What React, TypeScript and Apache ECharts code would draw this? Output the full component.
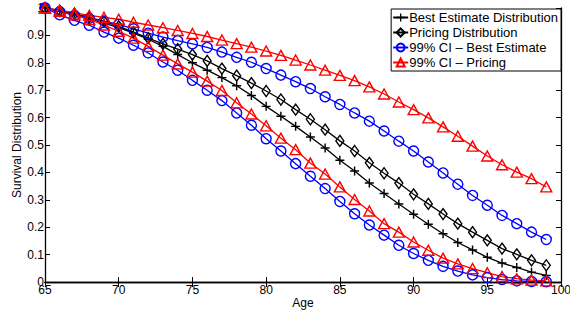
import React, { useEffect, useRef } from "react";
import * as echarts from "echarts";

const ages = [65, 66, 67, 68, 69, 70, 71, 72, 73, 74, 75, 76, 77, 78, 79, 80, 81, 82, 83, 84, 85, 86, 87, 88, 89, 90, 91, 92, 93, 94, 95, 96, 97, 98, 99];

const bestEstimate = [1.0, 0.988, 0.975, 0.96, 0.945, 0.928, 0.908, 0.886, 0.86, 0.83, 0.8, 0.773, 0.746, 0.716, 0.681, 0.641, 0.605, 0.568, 0.529, 0.489, 0.444, 0.405, 0.361, 0.323, 0.285, 0.247, 0.211, 0.176, 0.144, 0.117, 0.09, 0.069, 0.053, 0.036, 0.024];

const pricing = [1.0, 0.99, 0.979, 0.966, 0.951, 0.933, 0.912, 0.89, 0.869, 0.85, 0.83, 0.807, 0.779, 0.753, 0.726, 0.697, 0.666, 0.629, 0.594, 0.556, 0.515, 0.478, 0.435, 0.397, 0.361, 0.32, 0.285, 0.248, 0.213, 0.182, 0.152, 0.122, 0.101, 0.079, 0.061];

const ciBestUpper = [1.0, 0.987, 0.973, 0.962, 0.952, 0.94, 0.924, 0.908, 0.894, 0.881, 0.869, 0.856, 0.839, 0.82, 0.802, 0.779, 0.755, 0.731, 0.706, 0.676, 0.648, 0.617, 0.587, 0.551, 0.514, 0.478, 0.438, 0.398, 0.357, 0.316, 0.28, 0.243, 0.213, 0.182, 0.155];

const ciBestLower = [1.0, 0.975, 0.955, 0.937, 0.912, 0.89, 0.864, 0.836, 0.803, 0.773, 0.736, 0.7, 0.662, 0.617, 0.572, 0.523, 0.478, 0.432, 0.386, 0.341, 0.294, 0.249, 0.208, 0.171, 0.134, 0.104, 0.079, 0.057, 0.04, 0.026, 0.016, 0.009, 0.004, 0.002, 0.001];

const ciPricingUpper = [1.0, 0.992, 0.982, 0.973, 0.966, 0.959, 0.948, 0.938, 0.928, 0.918, 0.907, 0.896, 0.883, 0.87, 0.857, 0.843, 0.827, 0.81, 0.792, 0.773, 0.754, 0.735, 0.712, 0.686, 0.657, 0.629, 0.599, 0.566, 0.532, 0.496, 0.46, 0.428, 0.401, 0.377, 0.347];

const ciPricingLower = [1.0, 0.988, 0.975, 0.958, 0.938, 0.915, 0.89, 0.86, 0.828, 0.796, 0.766, 0.733, 0.699, 0.654, 0.613, 0.57, 0.525, 0.483, 0.434, 0.394, 0.347, 0.301, 0.259, 0.213, 0.182, 0.146, 0.116, 0.087, 0.066, 0.049, 0.034, 0.02, 0.012, 0.007, 0.004];

const legendNames = [
  "Best Estimate Distribution",
  "Pricing Distribution",
  "99% CI \u2013 Best Estimate",
  "99% CI \u2013 Pricing",
];

const FONT = "'Liberation Sans', Arial, Helvetica, sans-serif";
const PLUS = "path://M4.2,0H5.8V4.2H10V5.8H5.8V10H4.2V5.8H0V4.2H4.2Z";

function pairs(vals: number[]) {
  return ages.map((a, i) => [a, vals[i]]);
}

function mk(name: string, vals: number[], color: string, symbol: string, size: any, filled: boolean) {
  return {
    type: "line",
    name,
    data: pairs(vals),
    symbol,
    symbolSize: size,
    showSymbol: true,
    lineStyle: { color, width: 1.3 },
    itemStyle: filled
      ? { color, borderWidth: 0 }
      : { color: "rgba(255,255,255,0)", borderColor: color, borderWidth: 1.4 },
    emphasis: { disabled: true },
    z: 2,
  };
}

export default function App() {
  const ref = useRef<HTMLDivElement>(null);
  useEffect(() => {
    document.body.style.margin = "0";
    const chart = echarts.init(ref.current!, null, { renderer: "svg" });
    const axisCommon = {
      type: "value",
      axisLine: { show: true, lineStyle: { color: "#000", width: 1.3 } },
      axisTick: { show: true, inside: true, length: 5, lineStyle: { color: "#000", width: 1 } },
      splitLine: { show: false },
    };
    chart.setOption({
      animation: false,
      backgroundColor: "#fff",
      textStyle: { fontFamily: FONT },
      grid: { left: 45, right: 9, top: 8, bottom: 31, containLabel: false, outerBoundsMode: "none" },
      legend: {
        data: legendNames,
        orient: "vertical",
        right: 9,
        top: 9,
        itemWidth: 15,
        itemHeight: 10,
        itemGap: 2,
        padding: [2, 3, 2, 1],
        borderColor: "#000",
        borderWidth: 1,
        backgroundColor: "#fff",
        textStyle: { fontSize: 13, color: "#000", fontFamily: FONT, padding: [0, 0, 0, -4] },
        selectedMode: false,
      },
      xAxis: [
        {
          ...axisCommon,
          min: 65,
          max: 100,
          interval: 5,
          position: "bottom",
          name: "Age",
          nameLocation: "middle",
          nameGap: 15,
          nameMoveOverlap: false,
          nameTextStyle: { fontSize: 12, color: "#000", fontFamily: FONT },
          axisLabel: { fontSize: 12, color: "#000", margin: 2, fontFamily: FONT, showMaxLabel: true },
        },
        {
          ...axisCommon,
          min: 65,
          max: 100,
          interval: 5,
          position: "top",
          axisLabel: { show: false },
        },
      ],
      yAxis: [
        {
          ...axisCommon,
          min: 0,
          max: 1,
          interval: 0.1,
          position: "left",
          name: "Survival Distribution",
          nameLocation: "middle",
          nameGap: 22,
          nameMoveOverlap: false,
          nameTextStyle: { fontSize: 12, color: "#000", fontFamily: FONT },
          axisLabel: { fontSize: 12, color: "#000", margin: 1, fontFamily: FONT, showMaxLabel: true },
        },
        {
          ...axisCommon,
          min: 0,
          max: 1,
          interval: 0.1,
          position: "right",
          axisLabel: { show: false },
        },
      ],
      series: [
        mk(legendNames[0], bestEstimate, "#000", PLUS, 9, true),
        mk(legendNames[1], pricing, "#000", "diamond", [8, 11], false),
        mk(legendNames[2], ciBestUpper, "#0000ff", "circle", 10, false),
        mk(legendNames[2], ciBestLower, "#0000ff", "circle", 10, false),
        mk(legendNames[3], ciPricingUpper, "#ff0000", "triangle", [11, 10], false),
        mk(legendNames[3], ciPricingLower, "#ff0000", "triangle", [11, 10], false),
      ],
    });
    return () => chart.dispose();
  }, []);
  return <div ref={ref} style={{ position: "absolute", left: 0, top: 0, width: 570, height: 313 }} />;
}
